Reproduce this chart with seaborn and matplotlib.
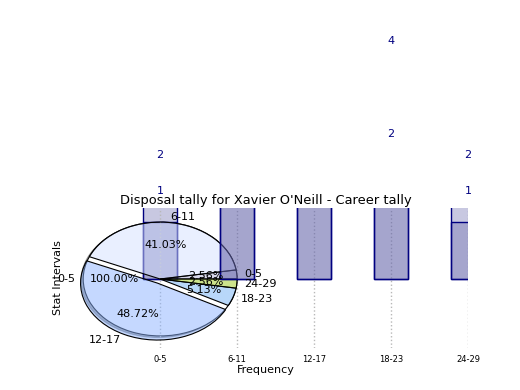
import numpy as np
import pandas as pd
import seaborn as sns
import matplotlib
matplotlib.use('Agg')
import matplotlib.pyplot as plt

# data
intervals = ['0-5', '6-11', '12-17', '18-23', '24-29']
tally = [1, 16, 19, 2, 1]
tally_cum = [2, 32, 38, 4, 2]
total_label = ['0-5']
total_value = [39]

pie_colors = [(0.69, 0.69, 0.84, 0.5), (0.83, 0.88, 1.0, 0.5), (0.55, 0.70, 1.0, 0.5),
              (0.45, 0.69, 0.96, 0.5), (0.61, 0.79, 0.10, 0.5)]
bar_face = (100 / 255, 100 / 255, 170 / 255, 0.35)

sns.set_style('white')
plt.rcParams['text.color'] = 'black'
plt.rcParams['axes.labelcolor'] = 'black'
plt.rcParams['xtick.color'] = 'black'

fig = plt.figure(figsize=(5.2, 3.9), dpi=100)
ax = fig.add_axes([0.123, 0.108, 0.777, 0.359])

df = pd.DataFrame({'interval': intervals, 'tally': tally, 'cum': tally_cum})

# two overlapping bar series
sns.barplot(data=df, x='interval', y='cum', width=0.45, ax=ax, edgecolor='navy', linewidth=1)
sns.barplot(data=df, x='interval', y='tally', width=0.45, ax=ax, edgecolor='navy', linewidth=1)
for k, p in enumerate(ax.patches):
    p.set_facecolor(bar_face)
    # first column sits under the pie, the rest on top of it
    p.set_zorder(1 if k % len(intervals) == 0 else 3)

for i, v in enumerate(tally):
    ax.text(i, v + 0.55, str(v), ha='center', va='center', color='navy', fontsize=8, clip_on=False)
for i, v in enumerate(tally_cum):
    ax.text(i, v + 0.18, str(v), ha='center', va='center', color='navy', fontsize=8, clip_on=False)

# pies dropped on top of the same axes
ax.pie(total_value, labels=total_label, autopct='%1.2f%%', frame=True, shadow=True,
       colors=['white'],
       wedgeprops={'edgecolor': 'black', 'linewidth': 0.8, 'zorder': 0.5},
       textprops={'fontsize': 8})
ax.pie(tally, labels=intervals, autopct='%1.2f%%', colors=pie_colors, frame=True,
       explode=[0, 0, 0.08, 0, 0],
       wedgeprops={'edgecolor': 'black', 'linewidth': 0.8, 'zorder': 2},
       textprops={'fontsize': 8})

ax.set_aspect('auto')
ax.set_xlim(-1.25, 4.0)
ax.set_ylim(-1.21, 1.25)
ax.set_xticks(range(len(intervals)))
ax.set_xticklabels(intervals, fontsize=6)
ax.set_yticks([])
ax.set_axisbelow('line')
ax.xaxis.grid(True, linestyle=':', color='#b8b8b8', linewidth=1)
ax.tick_params(axis='x', length=3, color='#c8c8c8', pad=2)
for s in ax.spines.values():
    s.set_visible(False)

ax.set_title("Disposal tally for Xavier O'Neill - Career tally", fontsize=9.4, pad=3)
ax.set_xlabel('Frequency', fontsize=8, labelpad=1)
ax.set_ylabel('Stat Intervals', fontsize=8, labelpad=0.5)

fig.savefig('out.png', dpi=100)
